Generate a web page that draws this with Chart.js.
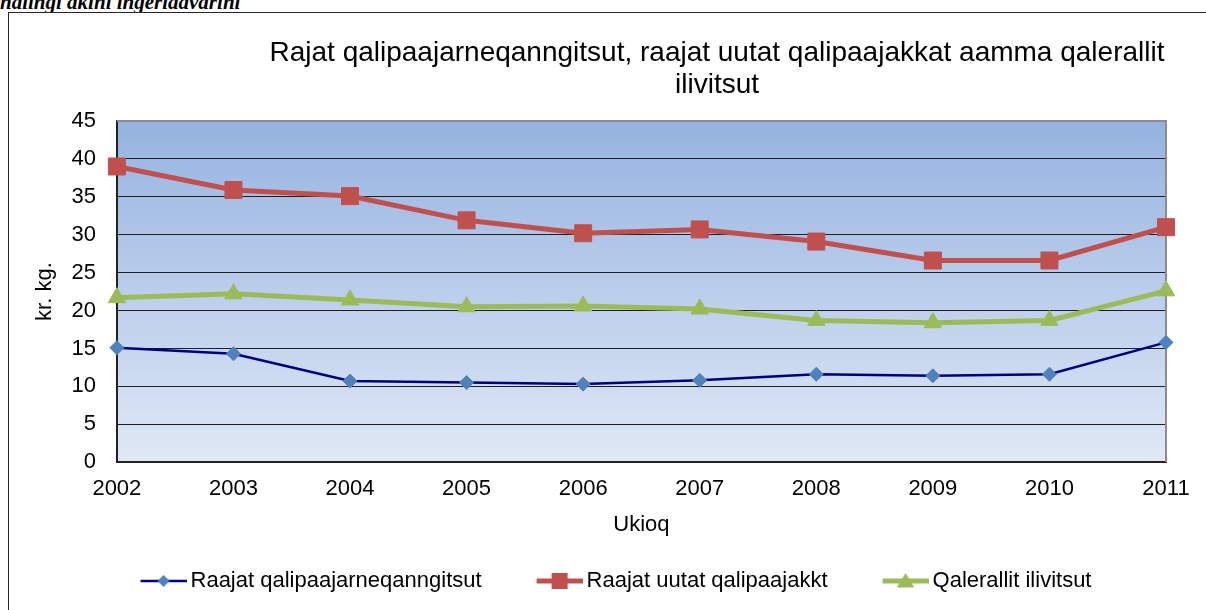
<!DOCTYPE html>
<html>
<head>
<meta charset="utf-8">
<script src="https://cdn.jsdelivr.net/npm/chart.js@4/dist/chart.umd.min.js"></script>
<style>
  html, body { margin: 0; padding: 0; background: #fff; overflow: hidden; width: 1206px; height: 610px; }
  .doc-line {
    position: absolute; left: 0; top: -8px;
    font: italic bold 21px/21px "Liberation Serif", "DejaVu Serif", serif;
    color: #000; white-space: nowrap;
  }
  .frame {
    position: absolute; left: 8px; top: 12px;
    width: 1210px; height: 620px;
    border: 1px solid #262626;
    background: #fff;
  }
  .frame canvas { display: block; }
</style>
</head>
<body>
<div class="doc-line">nalingi akini ingerlaavarini</div>
<div class="frame"><canvas id="chart" width="1198" height="597"></canvas></div>

<script>
/* ---- DATA ---- */
const years      = ['2002','2003','2004','2005','2006','2007','2008','2009','2010','2011'];
const unpainted  = [15.1, 14.3, 10.7, 10.5, 10.3, 10.8, 11.6, 11.4, 11.6, 15.8];
const painted    = [39.0, 35.9, 35.1, 31.9, 30.2, 30.7, 29.1, 26.6, 26.6, 31.0];
const fishFrozen = [21.7, 22.2, 21.4, 20.5, 20.6, 20.2, 18.7, 18.4, 18.7, 22.6];
const seriesNames = ['Raajat qalipaajarneqanngitsut', 'Raajat uutat qalipaajakkt', 'Qalerallit ilivitsut'];
const titleLines  = ['Rajat qalipaajarneqanngitsut, raajat uutat qalipaajakkat aamma qalerallit', 'ilivitsut'];
const yTitle = 'kr. kg.';
const xTitle = 'Ukioq';

const FONT = '"Liberation Sans", Arial, sans-serif';

/* ---- legend icons: line + marker ---- */
function legendIcon(color, fill, lineW, shape, r) {
  const c = document.createElement('canvas');
  c.width = 100; c.height = 24;
  const g = c.getContext('2d');
  const cy = 12, cx = 77;
  g.strokeStyle = color; g.lineWidth = lineW;
  g.beginPath(); g.moveTo(54, cy); g.lineTo(100, cy); g.stroke();
  g.fillStyle = fill;
  g.beginPath();
  if (shape === 'diamond') {
    g.moveTo(cx, cy - r); g.lineTo(cx + r, cy); g.lineTo(cx, cy + r); g.lineTo(cx - r, cy);
  } else if (shape === 'square') {
    g.rect(cx - r, cy - r, 2 * r, 2 * r);
  } else {
    g.moveTo(cx, cy - r); g.lineTo(cx + r * 1.1, cy + r * 0.8); g.lineTo(cx - r * 1.1, cy + r * 0.8);
  }
  g.closePath(); g.fill();
  return c;
}
const icons = [
  legendIcon('#000080', '#4f81bd', 2.5, 'diamond', 6),
  legendIcon('#c0504d', '#c0504d', 5, 'square', 8),
  legendIcon('#9bbb59', '#9bbb59', 5, 'triangle', 8)
];

/* ---- plugins ---- */
const plotBackground = {
  id: 'plotBackground',
  beforeDraw(chart) {
    const { ctx, chartArea: a } = chart;
    const grad = ctx.createLinearGradient(0, a.top, 0, a.bottom);
    grad.addColorStop(0, '#95b3e0');
    grad.addColorStop(1, '#e0e8f5');
    ctx.save();
    ctx.fillStyle = grad;
    ctx.fillRect(a.left, a.top, a.right - a.left, a.bottom - a.top);
    ctx.restore();
  },
  beforeDatasetsDraw(chart) {
    const { ctx, chartArea: a } = chart;
    ctx.save();
    ctx.strokeStyle = '#8c8c8c';
    ctx.lineWidth = 2;
    ctx.beginPath();
    ctx.moveTo(a.left, a.top); ctx.lineTo(a.right, a.top); ctx.lineTo(a.right, a.bottom);
    ctx.stroke();
    ctx.restore();
  }
};

const twoLineTitle = {
  id: 'twoLineTitle',
  afterDraw(chart) {
    const { ctx } = chart;
    ctx.save();
    ctx.font = '28px ' + FONT;
    ctx.fillStyle = '#000';
    ctx.textAlign = 'center';
    ctx.textBaseline = 'middle';
    ctx.fillText(titleLines[0], 708, 40);
    ctx.fillText(titleLines[1], 708, 72);
    ctx.restore();
  }
};

/* ---- chart ---- */
new Chart(document.getElementById('chart'), {
  type: 'line',
  data: {
    labels: years,
    datasets: [
      {
        label: seriesNames[0], data: unpainted,
        borderColor: '#000080', borderWidth: 2.5,
        pointStyle: 'rectRot', pointRadius: 7,
        pointBackgroundColor: '#4f81bd', pointBorderColor: '#4f81bd', pointBorderWidth: 1,
        tension: 0, clip: false
      },
      {
        label: seriesNames[1], data: painted,
        borderColor: '#c0504d', borderWidth: 5,
        pointStyle: 'rect', pointRadius: 12,
        pointBackgroundColor: '#c0504d', pointBorderColor: '#c0504d', pointBorderWidth: 1,
        tension: 0, clip: false
      },
      {
        label: seriesNames[2], data: fishFrozen,
        borderColor: '#9bbb59', borderWidth: 5,
        pointStyle: 'triangle', pointRadius: 10,
        pointBackgroundColor: '#9bbb59', pointBorderColor: '#9bbb59', pointBorderWidth: 1,
        tension: 0, clip: false
      }
    ]
  },
  options: {
    responsive: false,
    animation: false,
    devicePixelRatio: 1,
    layout: { padding: { top: 108, left: 10, right: 41, bottom: 8 } },
    scales: {
      x: {
        offset: false,
        grid: { display: false, drawTicks: false },
        border: { color: '#222', width: 2 },
        ticks: { color: '#000', font: { family: FONT, size: 22 }, padding: 14, maxRotation: 0, autoSkip: false },
        title: { display: true, text: xTitle, color: '#000', font: { family: FONT, size: 22 }, padding: { top: -5, bottom: 24 } }
      },
      y: {
        min: 0, max: 45,
        grid: {
          drawTicks: false, lineWidth: 1,
          color: ctx => ctx.tick && ctx.tick.value === 45 ? '#8c8c8c' : '#1f1f1f'
        },
        border: { color: '#222', width: 2 },
        ticks: { stepSize: 5, color: '#000', font: { family: FONT, size: 22 }, padding: 21 },
        title: { display: true, text: yTitle, color: '#000', font: { family: FONT, size: 22 }, padding: { top: 13, bottom: -8 } }
      }
    },
    plugins: {
      title: { display: false },
      tooltip: { enabled: false },
      legend: {
        position: 'bottom',
        labels: {
          usePointStyle: true,
          pointStyleWidth: 86,
          padding: 8,
          color: '#000',
          font: { family: FONT, size: 22 },
          generateLabels: chart => Chart.defaults.plugins.legend.labels.generateLabels(chart)
            .map((l, i) => ({ ...l, pointStyle: icons[i] }))
        }
      }
    }
  },
  plugins: [plotBackground, twoLineTitle]
});
</script>
</body>
</html>
